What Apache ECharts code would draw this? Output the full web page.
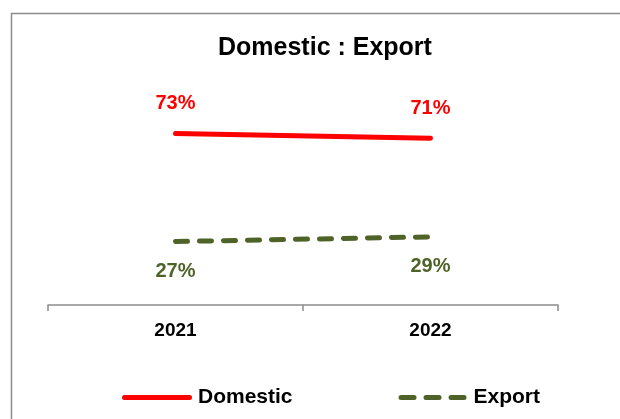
<!DOCTYPE html>
<html><head><meta charset="utf-8">
<script src="https://cdn.jsdelivr.net/npm/echarts@6/dist/echarts.min.js"></script>
<style>html,body{margin:0;padding:0;background:#fff}#c{width:620px;height:419px}</style>
</head><body><div id="c"></div>
<script>
const categories = ['2021', '2022'];
const domestic = [73, 71];
const exportVals = [27, 29];
const chart = echarts.init(document.getElementById('c'));
const font = 'Liberation Sans, Arial, sans-serif';
const solidIcon = 'path://M2.5,0H67.5A2.5,2.5,0,0,1,67.5,5H2.5A2.5,2.5,0,0,1,2.5,0Z';
const dashIcon = 'path://M2.5,0H15.5A2.5,2.5,0,0,1,15.5,5H2.5A2.5,2.5,0,0,1,2.5,0Z' +
  'M27.5,0H40.5A2.5,2.5,0,0,1,40.5,5H27.5A2.5,2.5,0,0,1,27.5,0Z' +
  'M52.5,0H65.5A2.5,2.5,0,0,1,65.5,5H52.5A2.5,2.5,0,0,1,52.5,0Z';
chart.setOption({
  animation: false,
  graphic: [{type: 'rect', left: 9, top: 11, shape: {width: 700, height: 500}, style: {fill: 'none', stroke: '#8c8c8c', lineWidth: 1.5}, silent: true}],
  title: {text: 'Domestic : Export', left: 213, top: 31, textStyle: {fontFamily: font, fontSize: 25, fontWeight: 'bold', color: '#000'}},
  grid: {left: 48, right: 62, top: 70, bottom: 114},
  xAxis: {type: 'category', data: categories, boundaryGap: true,
    axisLine: {lineStyle: {color: '#8c8c8c', width: 1.5}},
    axisTick: {show: true, length: 6, lineStyle: {color: '#8c8c8c', width: 1.5}},
    axisLabel: {fontFamily: font, fontSize: 19, fontWeight: 'bold', color: '#000', margin: 16}},
  yAxis: {type: 'value', min: 0, max: 100, show: false, splitLine: {show: false}},
  legend: {bottom: 6, left: 117, itemWidth: 72, itemHeight: 5, itemGap: 106,
    textStyle: {fontFamily: font, fontSize: 21, fontWeight: 'bold', color: '#000'},
    data: [{name: 'Domestic', icon: solidIcon}, {name: 'Export', icon: dashIcon}]},
  series: [
    {name: 'Domestic', type: 'line', data: domestic, symbol: 'circle', symbolSize: 0.1, showSymbol: true,
      lineStyle: {color: '#ff0000', width: 5, cap: 'round'}, itemStyle: {color: '#ff0000'},
      label: {show: true, position: 'top', distance: 20, formatter: '{c}%', fontFamily: font, fontSize: 20, fontWeight: 'bold', color: '#ff0000'}},
    {name: 'Export', type: 'line', data: exportVals, symbol: 'circle', symbolSize: 0.1, showSymbol: true,
      lineStyle: {color: '#4f6228', width: 5, type: [12, 12], cap: 'round'}, itemStyle: {color: '#4f6228'},
      label: {show: true, position: 'bottom', distance: 20, formatter: '{c}%', fontFamily: font, fontSize: 20, fontWeight: 'bold', color: '#4f6228'}}
  ]
});
</script></body></html>
